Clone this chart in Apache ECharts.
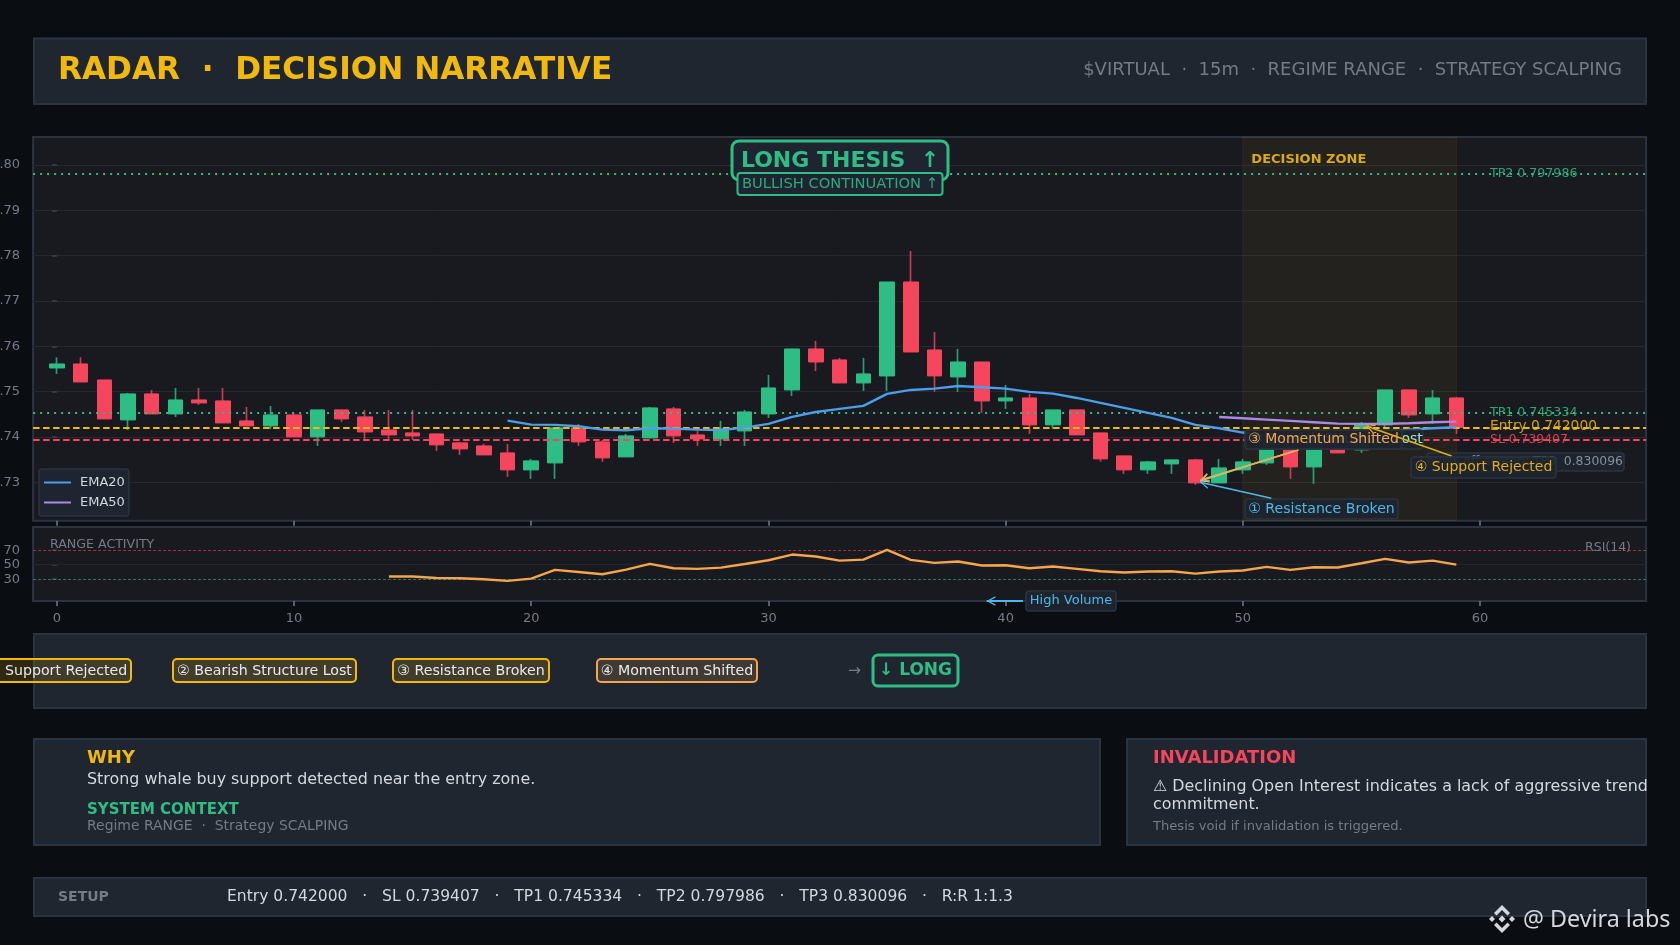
<!DOCTYPE html>
<html><head><meta charset="utf-8">
<script src="https://cdn.jsdelivr.net/npm/echarts@6/dist/echarts.min.js"></script>
<style>html,body{margin:0;padding:0;background:#0a0e12}#c{width:1680px;height:945px}</style>
</head><body><div id="c"></div>
<script>
const opens=[.75522,.7561,.75257,.74375,.74949,.74507,.74816,.74794,.74353,.74243,.74485,.74,.74596,.74441,.74154,.74088,.74066,.73868,.73801,.73647,.73272,.73426,.74199,.7389,.73559,.73978,.74618,.74044,.73956,.74132,.74507,.75037,.75941,.75699,.75191,.75346,.77419,.75919,.75324,.75654,.74794,.7486,.74265,.74596,.74088,.73581,.73272,.73404,.73493,.72985,.73272,.73426,.73846,.73338,.73824,.73713,.74265,.75037,.74507,.7486];
const closes=[.7561,.75213,.74397,.74949,.74507,.74816,.7475,.74309,.74243,.74485,.74,.74596,.74397,.7411,.74044,.74022,.73824,.73735,.73603,.73272,.73471,.74199,.7389,.73537,.74022,.7464,.74022,.73956,.74176,.74551,.75081,.75941,.75654,.75191,.7539,.77419,.75875,.75346,.75654,.74794,.7486,.74265,.74596,.74044,.73515,.73272,.73449,.73493,.72985,.73316,.73449,.74,.73338,.73934,.73647,.74265,.75037,.74485,.7486,.74213];
const lows=[.7539,.75213,.74397,.74154,.74507,.74441,.74706,.74309,.74243,.74176,.74,.73801,.74331,.73934,.73934,.73934,.73691,.73603,.73603,.73118,.73074,.73074,.73801,.73449,.73559,.73978,.73868,.73801,.73801,.73801,.74419,.74904,.75456,.75191,.75015,.75015,.75875,.74993,.74993,.74529,.74618,.74066,.74176,.74044,.73456,.73184,.73184,.73184,.72941,.72985,.73184,.73382,.73074,.72963,.73647,.73647,.74199,.74419,.74287,.74066];
const highs=[.75757,.75757,.75257,.74971,.75037,.75081,.75081,.75081,.74662,.74684,.74529,.74596,.74596,.74596,.74596,.74596,.74066,.7389,.73846,.73846,.73515,.74199,.74287,.73934,.74066,.74662,.74662,.74132,.74353,.74596,.75368,.75941,.76118,.75743,.75743,.77419,.78103,.76316,.75941,.75654,.75147,.74949,.74596,.74596,.74088,.73581,.73471,.73493,.73515,.73515,.73515,.74066,.73934,.74,.739,.74331,.75037,.75037,.75037,.74882];
const ema20Start=19;
const ema20=[.7436,.74272,.74265,.74235,.74162,.74147,.74191,.74184,.74162,.74154,.74206,.74287,.74441,.74551,.74618,.74684,.74949,.75037,.75066,.75125,.75096,.75066,.74993,.74956,.7486,.7475,.7464,.74529,.74419,.74265,.74191,.74096,.74066,.74044,.74044,.74066,.74096,.74132,.74162,.74191,.74213];
const ema50Start=49;
const ema50=[.74441,.74412,.74382,.74353,.74324,.74294,.74287,.74287,.74301,.74324,.74338];
const rsiStart=14;
const rsi=[33.7,33.7,31.8,31.4,30,27.7,30.9,42.9,40,36.9,43.3,51.1,45.2,44.3,46,51,56.2,64,61.3,55.7,57.1,70.5,56.7,52.5,54.4,48.9,49.3,45.2,47.5,44.3,41,39.2,40.6,41,37.8,40.6,42,47,42.9,46.6,46.1,52,58,53,55.7,50.2];
const xTicks=[0,10,20,30,40,50,60];
const priceTicks=[.73,.74,.75,.76,.77,.78,.79,.80];
const rsiTicks=[30,50,70];
const tp2=0.797986,tp1=0.745334,entry=0.742,sl=0.739407,tp3=0.830096;
const zoneFrom=50,zoneTo=59;

const GREEN='#2ebd85',RED='#f6465d',YEL='#f0b90b',ORG='#f5a54a',CYAN='#4db8e8',GRAY='#747b86',TXT='#d4d8de';
const PANEL='#1f2630',EDGE='#2b3340',PLOT='#181a20';
const FF='"DejaVu Sans"';
const pairs=(start,a)=>a.map((v,i)=>[start+i,v]);
const candle=opens.map((o,i)=>[i,o,closes[i],lows[i],highs[i]]);
const bodies=opens.map((o,i)=>[i,o,closes[i],Math.min(o,closes[i]),Math.max(o,closes[i])]);
const arrowHead='path://M-9.6 -9.6L-9.6 -9.6M9.6 9.6L9.6 9.6M0 0L5 9L3.8 9.6L0 2.6L-3.8 9.6L-5 9Z';

function panel(x0,y0,x1,y1){return {type:'rect',z:0,silent:true,shape:{x:x0,y:y0,width:x1-x0,height:y1-y0},style:{fill:PANEL,stroke:EDGE,lineWidth:2}};}
function txt(x,y,s,size,fill,o){o=o||{};return {type:'text',z:o.z||5,silent:true,x:x,y:y,style:{text:s,fill:fill,font:(o.bold?'bold ':'')+size+'px '+(o.ff||FF),align:o.align||'left',verticalAlign:'middle',opacity:o.op==null?1:o.op}};}
function box(x0,y0,x1,y1,s,size,fill,o){o=o||{};const z=o.z||50;return [
 {type:'rect',z:z,z2:0,silent:true,shape:{x:x0,y:y0,width:x1-x0,height:y1-y0,r:o.r==null?3:o.r},style:{fill:o.bg||'rgba(30,37,48,0.92)',stroke:o.stroke||EDGE,lineWidth:o.lw||1.5}},
 {type:'text',z:z,z2:1,silent:true,x:o.tx==null?(x0+x1)/2:o.tx,y:(y0+y1)/2+(o.dy||0),style:{text:s,fill:fill,font:(o.bold?'bold ':'')+size+'px '+FF,align:o.tx==null?'center':'left',verticalAlign:'middle'}}];}

const chipBg='rgba(240,185,11,0.16)';
const g=[
 panel(34,38.5,1646,104), panel(34,634,1646,708), panel(34,739,1100,845), panel(1127,739,1646,845), panel(34,878,1646,916),
 txt(58,70.5,'RADAR  ·  DECISION NARRATIVE',31.15,YEL,{bold:true}),
 txt(1622,70.5,'$VIRTUAL  ·  15m  ·  REGIME RANGE  ·  STRATEGY SCALPING',18,GRAY,{align:'right'}),
 txt(87,758,'WHY',18,YEL,{bold:true}),
 txt(87,780,'Strong whale buy support detected near the entry zone.',15.9,TXT),
 txt(87,810,'SYSTEM CONTEXT',15,GREEN,{bold:true}),
 txt(87,826,'Regime RANGE  ·  Strategy SCALPING',13.95,GRAY),
 txt(1153,758,'INVALIDATION',18,RED,{bold:true}),
 txt(1153,786.5,'⚠ Declining Open Interest indicates a lack of aggressive trend',15.9,TXT),
 txt(1153,804.5,'commitment.',15.9,TXT),
 txt(1153,827,'Thesis void if invalidation is triggered.',13.1,GRAY),
 txt(58,897,'SETUP',14,GRAY,{bold:true}),
 txt(227,897,'Entry 0.742000   ·   SL 0.739407   ·   TP1 0.745334   ·   TP2 0.797986   ·   TP3 0.830096   ·   R:R 1:1.3',15.55,TXT),
 txt(848,671,'→',15.5,GRAY),
 txt(50,545,'RANGE ACTIVITY',12.6,GRAY,{z:30}),
 txt(1631,548,'RSI(14)',12.5,GRAY,{align:'right',z:30}),
 txt(1523,920,'@ Devira labs',23.3,'#d4d8de',{ff:'"Noto Sans"',z:90}),
 {type:'group',z:90,silent:true,x:1502,y:919,children:[
  {type:'polygon',z:90,shape:{points:[[0,-3.5],[3.5,0],[0,3.5],[-3.5,0]]},style:{fill:'#d4d8de'}},
  {type:'polygon',z:90,shape:{points:[[-10,-3],[-7,0],[-10,3],[-13,0]]},style:{fill:'#d4d8de'}},
  {type:'polygon',z:90,shape:{points:[[10,-3],[13,0],[10,3],[7,0]]},style:{fill:'#d4d8de'}},
  {type:'polygon',z:90,shape:{points:[[0,-14],[8,-6],[5.5,-3.5],[0,-9],[-5.5,-3.5],[-8,-6]]},style:{fill:'#d4d8de'}},
  {type:'polygon',z:90,shape:{points:[[0,14],[8,6],[5.5,3.5],[0,9],[-5.5,3.5],[-8,6]]},style:{fill:'#d4d8de'}}
 ]},
 ...box(-20,659,131,682,'① Support Rejected',14.2,'#e8eaed',{bg:chipBg,stroke:YEL,lw:2,r:4,z:6,tx:-12.3,dy:1}),
 ...box(173,659,356,682,'② Bearish Structure Lost',14.2,'#e8eaed',{bg:chipBg,stroke:YEL,lw:2,r:4,z:6,dy:1}),
 ...box(393,659,549,682,'③ Resistance Broken',14.2,'#e8eaed',{bg:chipBg,stroke:YEL,lw:2,r:4,z:6,dy:1}),
 ...box(597,659,757,682,'④ Momentum Shifted',14.2,'#e8eaed',{bg:'rgba(245,165,74,0.16)',stroke:ORG,lw:2,r:4,z:6,dy:1}),
 ...box(873,655,958,686,'↓ LONG',17,GREEN,{bg:PANEL,stroke:GREEN,lw:3,r:5,z:6,bold:true}),
 ...box(732,141,948,180,'LONG THESIS  ↑',22,GREEN,{bg:'#1e2530',stroke:GREEN,lw:3,r:7,z:40,bold:true,dy:0.5}),
 ...box(737.5,173,942.5,195,'BULLISH CONTINUATION ↑',14.7,'rgba(46,189,133,0.88)',{bg:'#1e2530',stroke:GREEN,lw:2,r:3,z:41}),
 ...box(1427,453,1624,471,'Levels off-screen: TP3  '+tp3.toFixed(6),12.4,'#8a8f98',{z:42,tx:1420}),
 ...box(1250,430,1423,449,'② Bearish Structure Lost',14,'#a4e4bc',{z:43}),
 ...box(1245,430,1402,449,'③ Momentum Shifted',14,ORG,{z:44}),
 ...box(1245,499,1398,519,'① Resistance Broken',14.1,CYAN,{z:44}),
 ...box(1411,457,1556,478,'④ Support Rejected',14,'#e4ae10',{z:70}),
 ...box(1026,591,1116,611,'High Volume',13,CYAN,{z:70})
];

function arrow(from,to,color,w){return [{coord:from,lineStyle:{color:color,width:w||1.6,type:'solid'}},{coord:to}];}

const option={
 animation:false,
 backgroundColor:'#0a0e12',
 textStyle:{fontFamily:FF},
 grid:[
  {left:33.1,top:137,width:1613,height:383.7,show:true,backgroundColor:PLOT,borderColor:EDGE,borderWidth:2,outerBoundsMode:'none',containLabel:false},
  {left:33.1,top:527,width:1613,height:74,show:true,backgroundColor:PLOT,borderColor:EDGE,borderWidth:2,outerBoundsMode:'none',containLabel:false}
 ],
 xAxis:[
  {type:'value',gridIndex:0,min:-1,max:67,splitLine:{show:false},axisLine:{show:false},
   axisLabel:{show:false},axisTick:{show:true,length:5,customValues:xTicks,lineStyle:{color:GRAY,width:1.5}}},
  {type:'value',gridIndex:1,min:-1,max:67,splitLine:{show:false},axisLine:{show:false},
   axisLabel:{show:true,color:GRAY,fontSize:13,margin:11,customValues:xTicks,formatter:v=>String(v)},
   axisTick:{show:true,length:5,customValues:xTicks,lineStyle:{color:GRAY,width:1.5}}}
 ],
 yAxis:[
  {type:'value',gridIndex:0,min:0.72151,max:0.80619,axisLine:{show:false},
   axisLabel:{color:GRAY,fontSize:13,margin:13,customValues:priceTicks,formatter:v=>v.toFixed(2)},
   axisTick:{show:true,length:5,customValues:priceTicks,lineStyle:{color:'#3a4150',width:1.5}},
   splitLine:{show:true,lineStyle:{color:'#26292f',width:1}}},
  {type:'value',gridIndex:1,min:0,max:102,axisLine:{show:false},
   axisLabel:{color:GRAY,fontSize:13,margin:13,customValues:rsiTicks,formatter:v=>String(v)},
   axisTick:{show:true,length:5,customValues:rsiTicks,lineStyle:{color:'#3a4150',width:1.5}},
   splitLine:{show:false}}
 ],
 legend:{show:true,left:39,top:469,orient:'vertical',data:['EMA20','EMA50'],itemWidth:27,itemHeight:2,itemGap:7,icon:'rect',
  padding:[7,4,7,5],backgroundColor:'#1e2530',borderColor:EDGE,borderWidth:1.5,borderRadius:3,
  textStyle:{color:TXT,fontSize:13,padding:[0,0,0,4]}},
 series:[
  {name:'wicks',type:'candlestick',xAxisIndex:0,yAxisIndex:0,z:2,barWidth:1,data:candle,
   itemStyle:{color:'#2a9d74',color0:'#c63c50',borderColor:'#2a9d74',borderColor0:'#c63c50',borderWidth:1.7}},
  {name:'bodies',type:'candlestick',xAxisIndex:0,yAxisIndex:0,z:3,barWidth:15,data:bodies,
   itemStyle:{color:GREEN,color0:RED,borderColor:GREEN,borderColor0:RED,borderWidth:1},
   markArea:{silent:true,z:1,itemStyle:{color:'rgba(240,185,11,0.055)',borderColor:'rgba(240,185,11,0.08)',borderWidth:1},
    label:{show:true,position:'insideTopLeft',distance:9,offset:[0,8],color:YEL,opacity:.9,fontWeight:'bold',fontSize:13,fontFamily:FF},
    data:[[{name:'DECISION ZONE',xAxis:zoneFrom},{xAxis:zoneTo}]]}},
  {name:'levels',type:'line',xAxisIndex:0,yAxisIndex:0,z:4,data:[],
   markLine:{silent:true,z:4,symbol:'none',precision:6,label:{show:false},
    data:[
     {yAxis:tp2,lineStyle:{color:GREEN,type:[2,5],width:2}},
     {yAxis:tp1,lineStyle:{color:GREEN,type:[2,5],width:2}},
     {yAxis:entry,lineStyle:{color:YEL,type:[6.5,3.5],width:2}},
     {yAxis:sl,lineStyle:{color:RED,type:[6.5,3.5],width:2}}
    ]},
   markPoint:{silent:true,z:6,symbol:'circle',symbolSize:0,
    data:[
     {coord:[60.42,tp2],label:{formatter:'TP2 '+tp2.toFixed(6),color:GREEN,fontSize:12.6,opacity:.85}},
     {coord:[60.42,tp1],label:{formatter:'TP1 '+tp1.toFixed(6),color:GREEN,fontSize:12.6,opacity:.85}},
     {coord:[60.42,entry],label:{formatter:'Entry '+entry.toFixed(6),color:YEL,fontSize:13.8,opacity:.85,offset:[0,-1]}},
     {coord:[60.42,sl],label:{formatter:'SL '+sl.toFixed(6),color:RED,fontSize:12.4,opacity:.85,offset:[0,0.5]}}
    ],
    label:{show:true,position:'right',distance:0,offset:[0,-0.5]}}},
  {name:'EMA20',type:'line',xAxisIndex:0,yAxisIndex:0,z:5,data:pairs(ema20Start,ema20),showSymbol:false,symbol:'none',lineStyle:{color:'#4a9eea',width:2.4},itemStyle:{color:'#4a9eea'}},
  {name:'EMA50',type:'line',xAxisIndex:0,yAxisIndex:0,z:5,data:pairs(ema50Start,ema50),showSymbol:false,symbol:'none',lineStyle:{color:'#a98be6',width:2.4},itemStyle:{color:'#a98be6'}},
  {name:'arrows',type:'line',xAxisIndex:0,yAxisIndex:0,z:60,data:[],
   markLine:{silent:true,z:60,symbol:['none',arrowHead],symbolSize:18,precision:6,label:{show:false},
    data:[
     arrow([51.2,.72647],[48.2,.7300],CYAN),
     arrow([52.2,.73695],[48.2,.7303],'#8fe0a8'),
     arrow([52.35,.73713],[48.2,.7305],ORG),
     arrow([58.8,.7358],[55.2,.7424],'#e4ae10')
    ]}},
  {name:'RSI',type:'line',xAxisIndex:1,yAxisIndex:1,z:5,data:pairs(rsiStart,rsi),showSymbol:false,symbol:'none',lineStyle:{color:ORG,width:2.4},
   markLine:{silent:true,symbol:'none',label:{show:false},
    data:[
     {yAxis:70,lineStyle:{color:'rgba(246,70,93,0.6)',type:[3,2],width:1}},
     {yAxis:50,lineStyle:{color:'#24272d',type:'solid',width:1}},
     {yAxis:30,lineStyle:{color:'rgba(46,189,133,0.6)',type:[3,2],width:1}}
    ]}},
  {name:'rsiArrow',type:'line',xAxisIndex:1,yAxisIndex:1,z:60,data:[],
   markLine:{silent:true,z:60,symbol:['none',arrowHead],symbolSize:18,precision:6,label:{show:false},
    data:[arrow([40.73,0],[39.2,0],CYAN,2)]}}
 ],
 graphic:{elements:g}
};
const chart=echarts.init(document.getElementById('c'),null,{renderer:'canvas',width:1680,height:945});
chart.setOption(option);
</script></body></html>
